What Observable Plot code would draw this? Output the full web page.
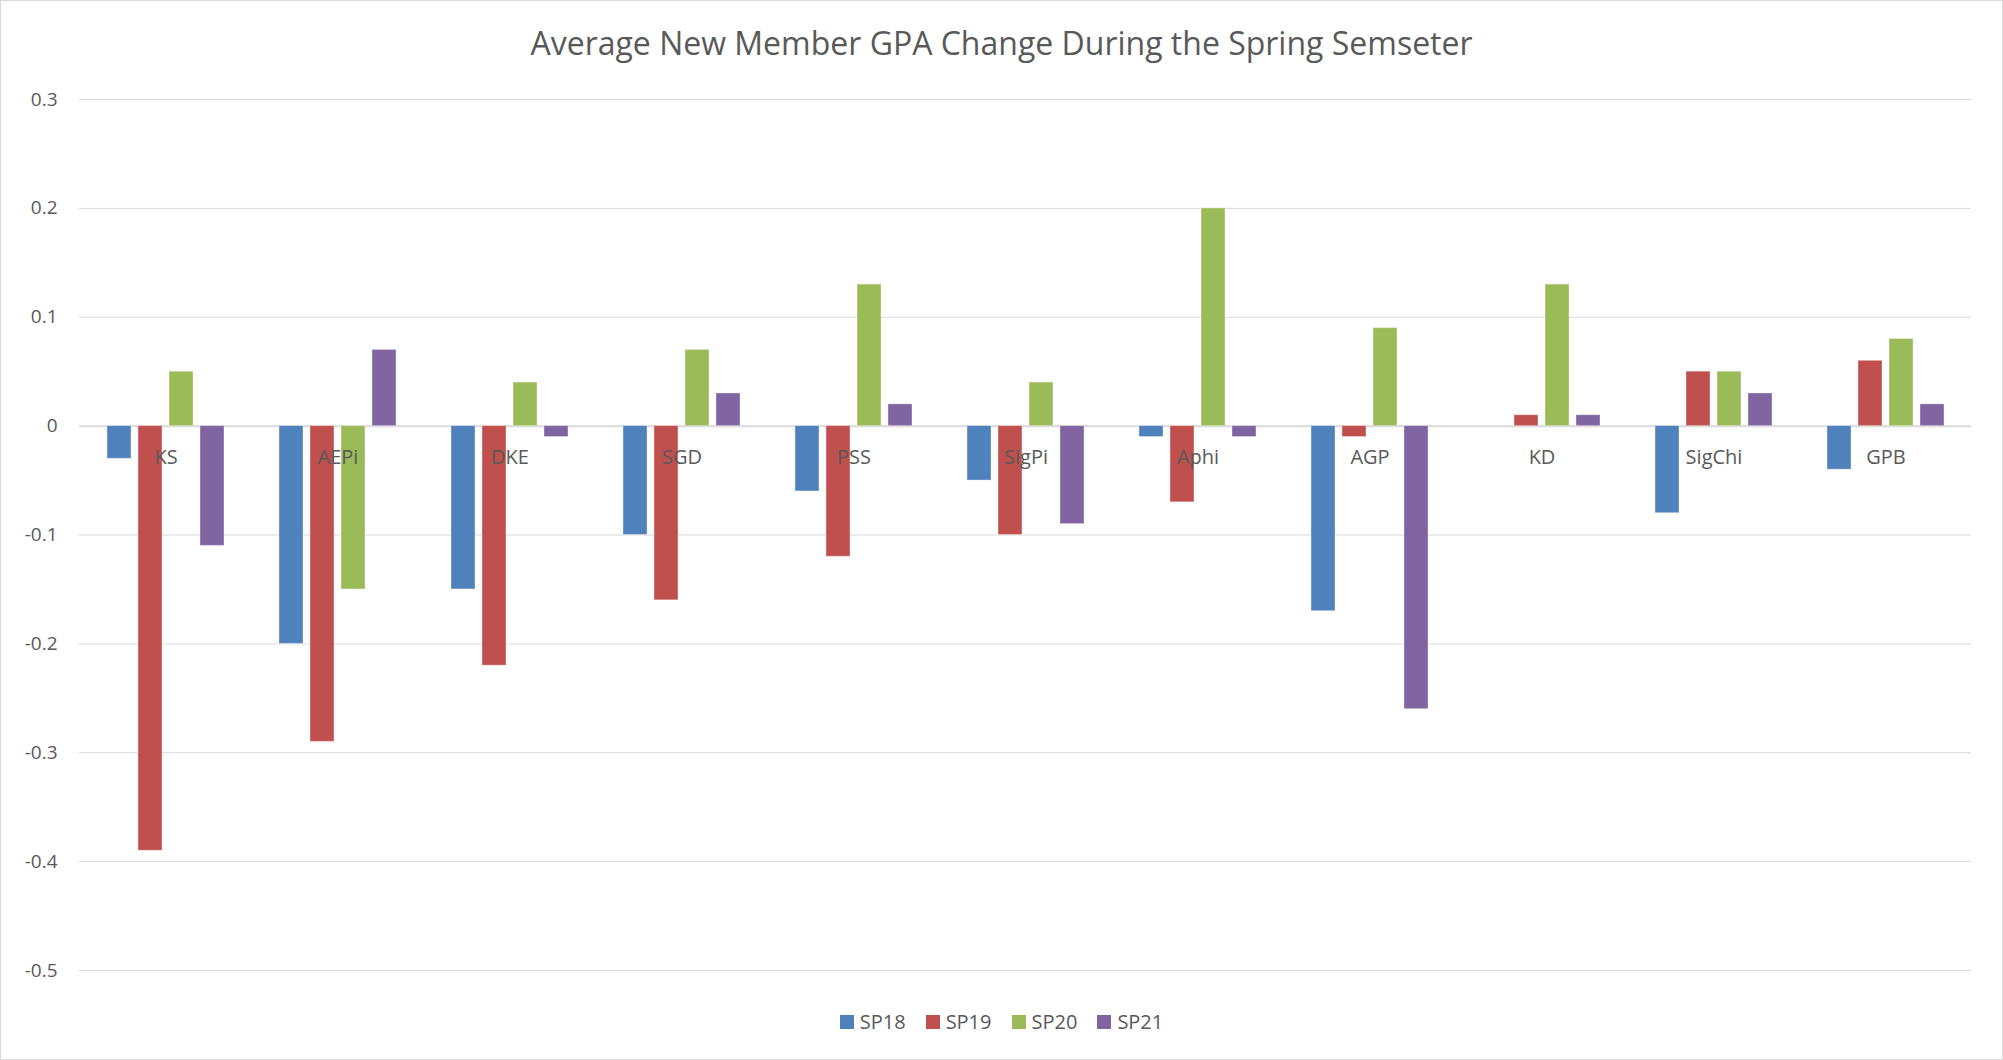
<!DOCTYPE html>
<html>
<head>
<meta charset="utf-8">
<script src="https://cdn.jsdelivr.net/npm/d3@7"></script>
<script src="https://cdn.jsdelivr.net/npm/@observablehq/plot@0.6"></script>
<style>
  html, body { margin: 0; padding: 0; background: #fff; }
  #chart { position: relative; width: 2001px; height: 1058px; border: 1px solid #d9d9d9; overflow: hidden; font-family: "Open Sans", sans-serif; }
  #title { height: 70px; display: flex; align-items: center; justify-content: center; padding-top: 12px; box-sizing: border-box; font-size: 32px; color: #595959; font-weight: 400; }
  #plotwrap { position: relative; width: 2001px; height: 929px; }
  #plotwrap svg { position: absolute; left: 0; top: 0; display: block; }
  #legend { display: flex; justify-content: center; align-items: center; gap: 20px; font-size: 20px; color: #595959; margin-top: 8px; }
  .item { display: flex; align-items: center; gap: 6px; }
  .sw { width: 14px; height: 14px; display: inline-block; }
</style>
</head>
<body>
<div id="chart">
  <div id="title">Average New Member GPA Change During the Spring Semseter</div>
  <div id="plotwrap"></div>
  <div id="legend"></div>
</div>
<script>
const categories = ["KS", "AEPi", "DKE", "SGD", "PSS", "SigPi", "Aphi", "AGP", "KD", "SigChi", "GPB"];
const seriesNames = ["SP18", "SP19", "SP20", "SP21"];
const seriesColors = ["#4f81bd", "#c0504d", "#9bbb59", "#8064a2"];
const SP18 = [-0.03, -0.20, -0.15, -0.10, -0.06, -0.05, -0.01, -0.17, 0.00, -0.08, -0.04];
const SP19 = [-0.39, -0.29, -0.22, -0.16, -0.12, -0.10, -0.07, -0.01, 0.01, 0.05, 0.06];
const SP20 = [0.05, -0.15, 0.04, 0.07, 0.13, 0.04, 0.20, 0.09, 0.13, 0.05, 0.08];
const SP21 = [-0.11, 0.07, -0.01, 0.03, 0.02, -0.09, -0.01, -0.26, 0.01, 0.03, 0.02];
const yTicks = [0.3, 0.2, 0.1, 0, -0.1, -0.2, -0.3, -0.4, -0.5];

const seriesValues = [SP18, SP19, SP20, SP21];
const data = [];
categories.forEach((c, i) => {
  seriesNames.forEach((s, j) => {
    data.push({cat: c, series: s, value: seriesValues[j][i]});
  });
});

const common = {
  width: 2001,
  height: 929,
  marginLeft: 78,
  marginRight: 31,
  marginTop: 28,
  marginBottom: 30,
  style: {fontFamily: "'Open Sans', sans-serif", fontSize: "19px", color: "#595959", background: "transparent"}
};

// Background layer: y axis and full-width gridlines
const grid = Plot.plot({
  ...common,
  y: {domain: [-0.5, 0.3], ticks: yTicks, tickSize: 0, tickPadding: 22, tickFormat: d => String(d), label: null},
  marks: [
    Plot.ruleY(yTicks, {y: d => d, stroke: "#d9d9d9", strokeWidth: d => d === 0 ? 2 : 1})
  ]
});

// Foreground layer: grouped bars and category labels
const bars = Plot.plot({
  ...common,
  fx: {domain: categories, paddingInner: 0.32, paddingOuter: 0.16, axis: null, label: null},
  x: {domain: seriesNames, paddingInner: 0.23, paddingOuter: 0, axis: null, label: null},
  y: {domain: [-0.5, 0.3], axis: null, label: null},
  color: {domain: seriesNames, range: seriesColors},
  marks: [
    Plot.barY(data, {fx: "cat", x: "series", y: "value", fill: "series", stroke: "#ffffff", strokeOpacity: 0.35, strokeWidth: 1}),
    Plot.text(categories, {fx: d => d, y: () => 0, dy: 31, text: d => d, fontSize: 20, fill: "#595959"})
  ]
});

const wrap = document.getElementById("plotwrap");
wrap.appendChild(grid);
wrap.appendChild(bars);

const legend = document.getElementById("legend");
seriesNames.forEach((s, j) => {
  const it = document.createElement("div");
  it.className = "item";
  const sw = document.createElement("span");
  sw.className = "sw";
  sw.style.background = seriesColors[j];
  const t = document.createElement("span");
  t.textContent = s;
  it.appendChild(sw);
  it.appendChild(t);
  legend.appendChild(it);
});
</script>
</body>
</html>
